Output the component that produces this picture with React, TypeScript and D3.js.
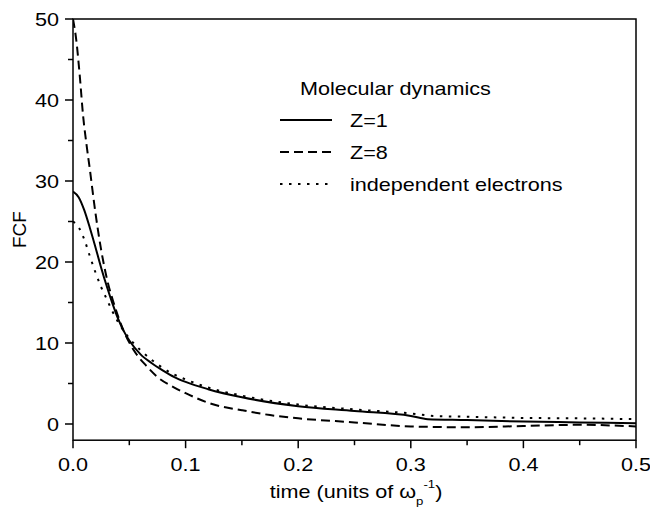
import React from "react";
import * as d3 from "d3";

const tZ1 = [0, 0.005, 0.01, 0.015, 0.02, 0.025, 0.03, 0.035, 0.04, 0.045, 0.05, 0.06, 0.07, 0.08, 0.09, 0.1, 0.12, 0.15, 0.2, 0.25, 0.3, 0.315, 0.35, 0.4, 0.45, 0.5];
const vZ1 = [28.7, 28.0, 26.4, 24.2, 21.8, 19.3, 17.0, 14.9, 13.0, 11.5, 10.3, 8.6, 7.5, 6.6, 5.8, 5.2, 4.3, 3.3, 2.2, 1.6, 1.0, 0.6, 0.5, 0.3, 0.2, 0.1];

const tZ8 = [0, 0.003, 0.006, 0.009, 0.012, 0.015, 0.02, 0.025, 0.03, 0.036, 0.045, 0.054, 0.065, 0.075, 0.09, 0.1, 0.125, 0.15, 0.175, 0.2, 0.25, 0.3, 0.35, 0.4, 0.45, 0.5];
const vZ8 = [50, 47.3, 43, 38, 34.5, 31.4, 26, 21.5, 18, 15, 11.5, 9.1, 7.2, 5.8, 4.5, 3.8, 2.4, 1.7, 1.1, 0.7, 0.2, -0.3, -0.4, -0.25, -0.1, -0.3];

const tInd = [0, 0.005, 0.01, 0.015, 0.02, 0.025, 0.03, 0.035, 0.04, 0.045, 0.05, 0.06, 0.07, 0.08, 0.09, 0.1, 0.12, 0.15, 0.2, 0.25, 0.3, 0.32, 0.35, 0.4, 0.45, 0.5];
const vInd = [25, 24.3, 22.8, 20.7, 18.7, 16.9, 15.4, 13.9, 12.6, 11.5, 10.6, 9.1, 7.9, 6.9, 6.1, 5.5, 4.5, 3.5, 2.4, 1.8, 1.3, 1.0, 0.9, 0.75, 0.7, 0.6];

const xMajor = [0, 0.1, 0.2, 0.3, 0.4, 0.5];
const xMinor = [0.05, 0.15, 0.25, 0.35, 0.45];
const yMajor = [0, 10, 20, 30, 40, 50];
const yMinor = [5, 15, 25, 35, 45];

const legendTitle = "Molecular dynamics";
const seriesNames = ["Z=1", "Z=8", "independent electrons"];

const FONT = "'Liberation Sans', Arial, Helvetica, sans-serif";
const FS = 18;
const SX = 1.2;

function T(props: { x: number; y: number; anchor?: string; children: React.ReactNode; sx?: number }) {
  const { x, y, anchor = "start", children, sx = SX } = props;
  return (
    <text
      transform={`translate(${x},${y}) scale(${sx},1)`}
      textAnchor={anchor}
      fontSize={FS}
      fill="#000"
    >
      {children}
    </text>
  );
}

export default function App() {
  const W = 650, H = 510;
  const left = 73, right = 636, top = 19, bottom = 440.2;
  const x = d3.scaleLinear().domain([0, 0.5]).range([left, right]);
  const y = d3.scaleLinear().domain([-2, 50]).range([bottom, top]);

  const line = d3
    .line<[number, number]>()
    .x((d) => x(d[0]))
    .y((d) => y(d[1]))
    .curve(d3.curveMonotoneX);

  const series = [
    { t: tZ1, v: vZ1, dash: "none" },
    { t: tZ8, v: vZ8, dash: "9,5" },
    { t: tInd, v: vInd, dash: "2.5,6.5" },
  ];

  const legY = [120, 152, 184];

  return (
    <svg
      width={W}
      height={H}
      style={{ position: "absolute", left: 0, top: 0, background: "#fff" }}
      fontFamily={FONT}
    >
      <rect x={0} y={0} width={W} height={H} fill="#fff" />
      <defs>
        <clipPath id="plot">
          <rect x={left} y={top - 1} width={right - left} height={bottom - top + 1} />
        </clipPath>
      </defs>
      <g clipPath="url(#plot)">
        {series.map((s, i) => (
          <path
            key={i}
            d={line(s.t.map((t, j) => [t, s.v[j]] as [number, number])) || ""}
            fill="none"
            stroke="#000"
            strokeWidth={2}
            strokeDasharray={s.dash}
          />
        ))}
      </g>
      {/* frame */}
      <rect x={left} y={top} width={right - left} height={bottom - top} fill="none" stroke="#000" strokeWidth={1.5} />
      {/* y ticks */}
      {yMajor.map((v) => (
        <g key={"ym" + v}>
          <line x1={left - 8} x2={left} y1={y(v)} y2={y(v)} stroke="#000" strokeWidth={1.5} />
          <T x={left - 14} y={y(v) + 6.5} anchor="end">
            {v}
          </T>
        </g>
      ))}
      {yMinor.map((v) => (
        <line key={"yn" + v} x1={left - 5} x2={left} y1={y(v)} y2={y(v)} stroke="#000" strokeWidth={1.5} />
      ))}
      {/* x ticks */}
      {xMajor.map((v) => (
        <g key={"xm" + v}>
          <line x1={x(v)} x2={x(v)} y1={bottom} y2={bottom + 8} stroke="#000" strokeWidth={1.5} />
          <T x={x(v)} y={471} anchor="middle">
            {v.toFixed(1)}
          </T>
        </g>
      ))}
      {xMinor.map((v) => (
        <line key={"xn" + v} x1={x(v)} x2={x(v)} y1={bottom} y2={bottom + 5} stroke="#000" strokeWidth={1.5} />
      ))}
      {/* axis titles */}
      <text
        transform={`translate(26, ${(top + bottom) / 2}) rotate(-90)`}
        textAnchor="middle"
        fontSize={19}
        fill="#000"
      >
        FCF
      </text>
      <text
        transform={`translate(356, 498) scale(${SX},1)`}
        textAnchor="middle"
        fontSize={FS}
        fill="#000"
      >
        time (units of ω
        <tspan fontSize={11} dy={7}>p</tspan>
        <tspan fontSize={11} dy={-17}>-1</tspan>
        <tspan dy={10}>)</tspan>
      </text>
      {/* legend */}
      <T x={300} y={95}>
        {legendTitle}
      </T>
      {seriesNames.map((n, i) => (
        <g key={n}>
          <line
            x1={280}
            x2={332}
            y1={legY[i]}
            y2={legY[i]}
            stroke="#000"
            strokeWidth={2}
            strokeDasharray={series[i].dash}
          />
          <T x={350} y={legY[i] + 6.5}>
            {n}
          </T>
        </g>
      ))}
    </svg>
  );
}
